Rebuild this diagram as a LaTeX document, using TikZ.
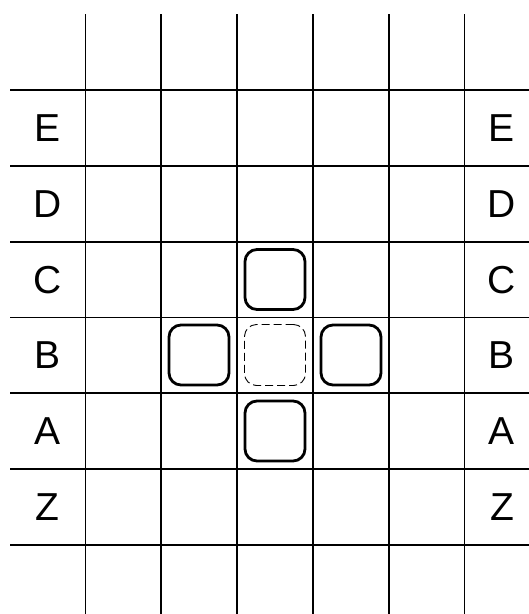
\documentclass[tikz,border=0pt]{standalone}
\usepackage{fontspec}
\setmainfont{Liberation Sans}
\begin{document}
\begin{tikzpicture}[x=1pt,y=-1pt,
  gridline/.style={line width=1.8pt,black},
  lbl/.style={font=\fontsize{39}{39}\selectfont,inner sep=0pt,anchor=center},
  tile/.style={draw,line width=2.8pt,rounded corners=12pt,minimum width=60pt,minimum height=60pt,inner sep=0pt},
  ghost/.style={draw,line width=0.9pt,dash pattern=on 8pt off 4pt,rounded corners=12pt,minimum width=61pt,minimum height=61pt,inner sep=0pt}]
\useasboundingbox (0,0) rectangle (529,614);
% vertical lines
\foreach \i in {0,...,5} {
  \draw[gridline] ({85.5+75.8*\i},14) -- ({85.5+75.8*\i},614);
}
% horizontal lines
\foreach \j in {0,...,6} {
  \draw[gridline] (10,{90+75.8*\j}) -- (529,{90+75.8*\j});
}
% labels
\foreach \t [count=\k from 0] in {E,D,C,B,A,Z} {
  \node[lbl] (L\t) at (47.6,{128+75.8*\k}) {\t};
  \node[lbl] (R\t) at (502,{128+75.8*\k}) {\t};
}
% tiles
\node[tile] (top) at (275,279.5) {};
\node[tile] (left) at (199,355) {};
\node[ghost] (mid) at (275,355) {};
\node[tile] (right) at (351,355) {};
\node[tile] (bottom) at (275,431) {};
\end{tikzpicture}
\end{document}
